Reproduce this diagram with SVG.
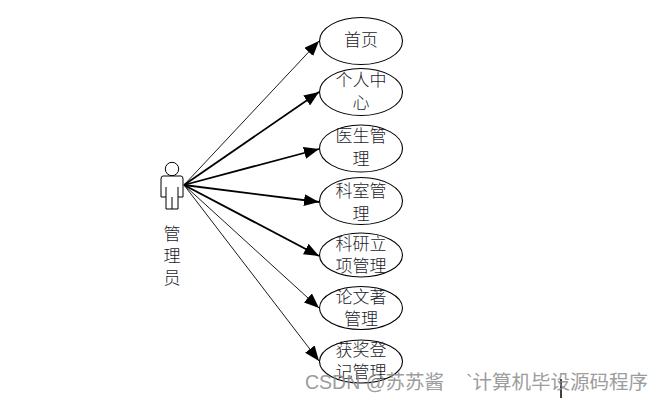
<svg xmlns="http://www.w3.org/2000/svg" width="664" height="401" viewBox="0 0 664 401">
<defs>
<marker id="a" markerUnits="userSpaceOnUse" markerWidth="16" markerHeight="12" refX="15" refY="6" orient="auto"><path d="M0 0L15 6L0 12Z" fill="#000"/></marker>
</defs>
<style>
.u{fill:#fff;stroke:#000;stroke-width:1.1}
.t{font-family:"Noto Sans CJK SC","Liberation Serif",sans-serif;font-size:17px;font-weight:300;fill:#1a1a2a;text-anchor:middle}
.c{fill:none;stroke:#000;marker-end:url(#a)}
.w{font-family:"Liberation Sans","Noto Sans CJK SC",sans-serif;font-size:19.500px;fill:#8c8c8c}
</style>
<rect width="664" height="401" fill="#fff"/>
<g id="connectors">
<path class="c" stroke-width="0.9" d="M184 185L319 41"/>
<path class="c" stroke-width="1.8" d="M184 185L319 92"/>
<path class="c" stroke-width="1.8" d="M184 185L319 149"/>
<path class="c" stroke-width="1.8" d="M184 185L319 202"/>
<path class="c" stroke-width="1.8" d="M184 185L319 256"/>
<path class="c" stroke-width="0.9" d="M184 185L319 308"/>
<path class="c" stroke-width="0.9" d="M184 185L319 361"/>
</g>
<g id="actor">
<circle cx="172" cy="169" r="6.700" fill="#fff" stroke="#000"/>
<path fill="#fff" stroke="#000" d="M163 176H181Q183 176 183 179V197H178V209H166V197H161V179Q161 176 163 176Z"/>
<path fill="none" stroke="#000" d="M166 187V197M178 187V197M172 197V209"/>
<text class="t" x="172" y="240">管</text>
<text class="t" x="172" y="262">理</text>
<text class="t" x="172" y="284">员</text>
</g>
<g id="n1"><ellipse class="u" cx="361" cy="41" rx="41.500" ry="23.500"/><text class="t" x="361" y="46">首页</text></g>
<g id="n2"><ellipse class="u" cx="361" cy="92" rx="41.500" ry="23.500"/><text class="t" x="361" y="86">个人中</text><text class="t" x="361" y="109">心</text></g>
<g id="n3"><ellipse class="u" cx="361" cy="148.500" rx="41.500" ry="23.500"/><text class="t" x="361" y="142">医生管</text><text class="t" x="361" y="165">理</text></g>
<g id="n4"><ellipse class="u" cx="361" cy="201" rx="41.500" ry="23.500"/><text class="t" x="361" y="197">科室管</text><text class="t" x="361" y="220">理</text></g>
<g id="n5"><ellipse class="u" cx="361" cy="255" rx="41.500" ry="22"/><text class="t" x="361" y="250">科研立</text><text class="t" x="361" y="272">项管理</text></g>
<g id="n6"><ellipse class="u" cx="361" cy="308" rx="41.500" ry="21.500"/><text class="t" x="361" y="303">论文著</text><text class="t" x="361" y="325">管理</text></g>
<g id="n7"><ellipse class="u" cx="361" cy="361.500" rx="41.500" ry="21.500"/><text class="t" x="361" y="356">获奖登</text><text class="t" x="361" y="378">记管理</text></g>
<path d="M561 379V398" stroke="#000" stroke-width="1.500"/>
<text class="w" x="305" y="389" opacity="0.85">CSDN @苏苏酱</text>
<text class="w" x="466" y="389" opacity="0.85">`计算机毕设源码程序</text>
</svg>
